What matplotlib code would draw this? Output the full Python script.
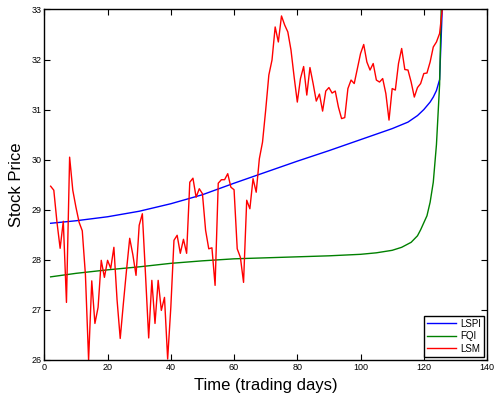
import matplotlib
matplotlib.use('Agg')
import matplotlib.pyplot as plt

plt.rcParams['font.family'] = ['Liberation Sans', 'DejaVu Sans']

# trading days for the LSM path
days = list(range(2, 127))

# LSM (red), one value per day from day 2 to 126
lsm = [
    29.47, 29.39, 28.75, 28.23, 28.77, 27.15, 30.05, 29.39, 29.05,
    28.75, 28.58, 27.70, 26.00, 27.58, 26.73, 27.05, 27.99, 27.65, 27.99,
    27.83, 28.25, 27.20, 26.43, 27.13, 27.80, 28.43, 28.10, 27.69, 28.69,
    28.92, 27.70, 26.44, 27.59, 26.73, 27.59, 26.99, 27.25, 26.02, 27.05,
    28.39, 28.49, 28.13, 28.41, 28.13, 29.55, 29.63, 29.25, 29.42, 29.32,
    28.59, 28.22, 28.24, 27.49, 29.53, 29.60, 29.60, 29.72, 29.45, 29.40,
    28.22, 28.05, 27.55, 29.19, 29.02, 29.62, 29.35, 30.02, 30.35, 30.99,
    31.69, 31.99, 32.65, 32.35, 32.87, 32.69, 32.55, 32.19, 31.65, 31.15,
    31.62, 31.86, 31.29, 31.84, 31.52, 31.17, 31.31, 30.97, 31.37, 31.44,
    31.33, 31.37, 31.05, 30.82, 30.84, 31.42, 31.59, 31.52, 31.82, 32.12,
    32.30, 31.95, 31.79, 31.92, 31.59, 31.55, 31.62, 31.32, 30.79, 31.42,
    31.39, 31.92, 32.22, 31.80, 31.79, 31.55, 31.25, 31.44, 31.52, 31.72,
    31.73, 31.95, 32.25, 32.35, 32.52, 33.10,
]

# LSPI (blue)
lspi_days = [2, 10, 20, 30, 40, 50, 60, 70, 80, 90, 100, 105, 110, 115,
             118, 120, 122, 123, 124, 125, 126]
lspi = [28.73, 28.78, 28.86, 28.97, 29.12, 29.30, 29.53, 29.75, 29.97,
        30.18, 30.40, 30.51, 30.62, 30.75, 30.88, 31.00, 31.15, 31.25,
        31.38, 31.60, 33.30]

# FQI (green)
fqi_days = [2, 10, 20, 30, 40, 50, 60, 70, 80, 90, 100, 105, 110, 113,
            116, 118, 119, 120, 121, 122, 123, 124, 125, 126]
fqi = [27.66, 27.73, 27.80, 27.86, 27.93, 27.98, 28.02, 28.04, 28.06,
       28.08, 28.11, 28.14, 28.19, 28.25, 28.35, 28.48, 28.60, 28.74,
       28.88, 29.15, 29.55, 30.30, 31.50, 34.50]

fig = plt.figure(figsize=(4.98, 3.93), dpi=100)
ax = fig.add_axes([0.089, 0.084, 0.889, 0.892])

ax.plot(lspi_days, lspi, color='#0000ff', lw=1.0, label='LSPI')
ax.plot(fqi_days, fqi, color='#008000', lw=1.0, label='FQI')
ax.plot(days, lsm, color='#ff0000', lw=1.0, label='LSM')

ax.set_xlim(0, 140)
ax.set_ylim(26, 33)
ax.set_xticks(range(0, 141, 20))
ax.set_yticks(range(26, 34))

ax.tick_params(direction='in', length=4, width=0.8, labelsize=6.5,
               top=True, right=True, pad=2)
for s in ax.spines.values():
    s.set_linewidth(1.0)

ax.set_xlabel('Time (trading days)', fontsize=12, labelpad=4.5)
ax.set_ylabel('Stock Price', fontsize=12, labelpad=5)

leg = ax.legend(loc='lower right', fontsize=7, fancybox=False,
                edgecolor='black', framealpha=1, handlelength=3,
                labelspacing=0.25, borderpad=0.3, handletextpad=0.4,
                borderaxespad=0.35)
leg.get_frame().set_linewidth(1.0)

fig.savefig('out.png', dpi=100)
